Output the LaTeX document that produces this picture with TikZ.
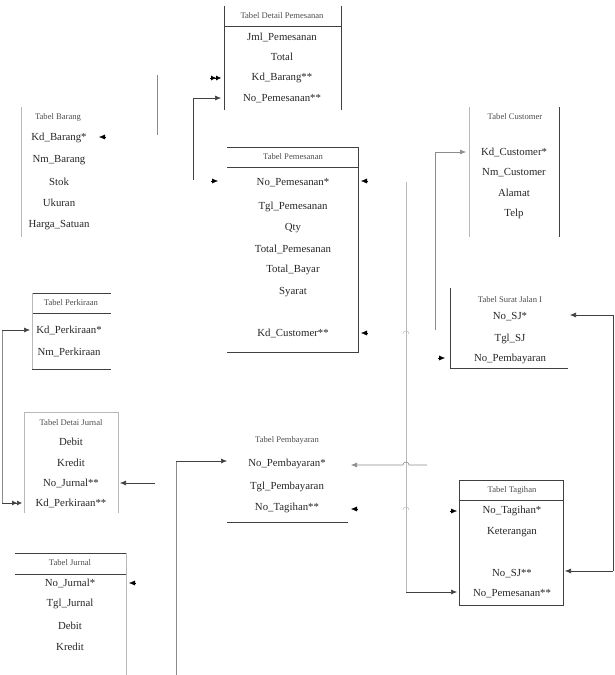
\documentclass[tikz,border=0pt]{standalone}
\usepackage{fontspec}
\setmainfont{Liberation Serif}
\usetikzlibrary{arrows.meta}
\definecolor{boxline}{gray}{0.25}
\definecolor{faint}{gray}{0.72}
\definecolor{midline}{gray}{0.55}
\definecolor{titlecol}{gray}{0.3}
\tikzset{
  row/.style={font=\fontsize{10.8}{12}\selectfont, inner sep=0pt, text=black!85},
  ttl/.style={font=\fontsize{8.6}{10}\selectfont, inner sep=0pt, text=titlecol},
  bl/.style={draw=boxline, line width=0.6pt},
  fl/.style={draw=faint, line width=0.6pt},
  ml/.style={draw=midline, line width=0.6pt},
  conn/.style={draw=boxline, line width=0.6pt, -{Latex[length=6pt,width=5pt]}},
  dconn/.style={draw=boxline, line width=0.6pt, -{Latex[length=5pt,width=5pt]Latex[length=5pt,width=5pt]}},
  tip/.style={draw=black, line width=0.4pt, -{Latex[length=6pt,width=5pt]}},
  dtip/.style={draw=black, line width=0.4pt, -{Latex[length=5pt,width=5pt]Latex[length=5pt,width=5pt]}},
  hop/.style={draw=faint, line width=0.5pt}
}
\begin{document}
\begin{tikzpicture}[x=1pt,y=-1pt]
\useasboundingbox (0,0) rectangle (615,675);

% ---------- Tabel Detail Pemesanan ----------
\draw[bl] (224,6) -- (224,110);
\draw[bl] (341,6) -- (341,110);
\draw[bl] (224,26) -- (341,26);
\node[ttl] (dpT) at (282,16) {Tabel Detail Pemesanan};
\node[row] (dp1) at (282,37) {Jml\_Pemesanan};
\node[row] (dp2) at (282,57) {Total};
\node[row] (dp3) at (282,78) {Kd\_Barang**};
\node[row] (dp4) at (282,99) {No\_Pemesanan**};

% ---------- Tabel Barang ----------
\draw[fl] (21,107) -- (21,237);
\node[ttl] (brT) at (58,117) {Tabel Barang};
\node[row] (br1) at (59,138) {Kd\_Barang*};
\node[row] (br2) at (59,160) {Nm\_Barang};
\node[row] (br3) at (59,182) {Stok};
\node[row] (br4) at (59,203) {Ukuran};
\node[row] (br5) at (59,225) {Harga\_Satuan};

% ---------- Tabel Pemesanan ----------
\draw[bl] (227,147) -- (358,147) -- (358,352) -- (227,352);
\draw[bl] (227,167) -- (358,167);
\node[ttl] (psT) at (293,157) {Tabel Pemesanan};
\node[row] (ps1) at (293,183) {No\_Pemesanan*};
\node[row] (ps2) at (293,207) {Tgl\_Pemesanan};
\node[row] (ps3) at (293,228) {Qty};
\node[row] (ps4) at (293,249) {Total\_Pemesanan};
\node[row] (ps5) at (293,270) {Total\_Bayar};
\node[row] (ps6) at (293,292) {Syarat};
\node[row] (ps7) at (293,333) {Kd\_Customer**};

% ---------- Tabel Customer ----------
\draw[fl] (469,107) -- (469,237);
\draw[bl] (559,107) -- (559,237);
\node[ttl] (csT) at (515,117) {Tabel Customer};
\node[row] (cs1) at (514,152) {Kd\_Customer*};
\node[row] (cs2) at (514,173) {Nm\_Customer};
\node[row] (cs3) at (514,193) {Alamat};
\node[row] (cs4) at (514,214) {Telp};

% ---------- Tabel Surat Jalan I ----------
\draw[bl] (450,288) -- (450,368) -- (568,368);
\node[ttl] (sjT) at (510,300) {Tabel Surat Jalan I};
\node[row] (sj1) at (510,317) {No\_SJ*};
\node[row] (sj2) at (510,339) {Tgl\_SJ};
\node[row] (sj3) at (510,359) {No\_Pembayaran};

% ---------- Tabel Perkiraan ----------
\draw[bl] (32,293) -- (111,293);
\draw[bl] (32,313) -- (111,313);
\draw[bl] (32,369) -- (111,369);
\draw[fl] (32,293) -- (32,369);
\node[ttl] (pkT) at (71,303) {Tabel Perkiraan};
\node[row] (pk1) at (69,330) {Kd\_Perkiraan*};
\node[row] (pk2) at (69,352) {Nm\_Perkiraan};

% ---------- Tabel Detail Jurnal ----------
\draw[fl] (24,513) -- (24,412) -- (118,412);
\draw[fl] (118,412) -- (118,513);
\node[ttl] (djT) at (71,423) {Tabel Detai Jurnal};
\node[row] (dj1) at (71,442) {Debit};
\node[row] (dj2) at (71,463) {Kredit};
\node[row] (dj3) at (71,483) {No\_Jurnal**};
\node[row] (dj4) at (71,503) {Kd\_Perkiraan**};

% ---------- Tabel Pembayaran ----------
\draw[bl] (227,522) -- (348,522);
\node[ttl] (pbT) at (287,440) {Tabel Pembayaran};
\node[row] (pb1) at (287,464) {No\_Pembayaran*};
\node[row] (pb2) at (287,487) {Tgl\_Pembayaran};
\node[row] (pb3) at (287,508) {No\_Tagihan**};

% ---------- Tabel Tagihan ----------
\draw[bl] (459,480) rectangle (563,605);
\draw[bl] (459,500) -- (563,500);
\node[ttl] (tgT) at (512,490) {Tabel Tagihan};
\node[row] (tg1) at (512,511) {No\_Tagihan*};
\node[row] (tg2) at (512,532) {Keterangan};
\node[row] (tg3) at (512,574) {No\_SJ**};
\node[row] (tg4) at (512,594) {No\_Pemesanan**};

% ---------- Tabel Jurnal ----------
\draw[bl] (15,553) -- (126,553);
\draw[bl] (15,574) -- (126,574);
\draw[fl] (126,553) -- (126,675);
\node[ttl] (jrT) at (70,563) {Tabel Jurnal};
\node[row] (jr1) at (70,583) {No\_Jurnal*};
\node[row] (jr2) at (70,604) {Tgl\_Jurnal};
\node[row] (jr3) at (70,626) {Debit};
\node[row] (jr4) at (70,647) {Kredit};

% ---------- connector end points ----------
\coordinate (a1) at (193,180);
\coordinate (a2) at (193,98);
\coordinate (a3) at (221,98);
\coordinate (b1) at (157,75);
\coordinate (b2) at (157,135);
\coordinate (c1) at (435,330);
\coordinate (c2) at (435,152);
\coordinate (c3) at (466,152);
\coordinate (d1) at (406,182);
\coordinate (d2) at (406,592);
\coordinate (d3) at (457,592);
\coordinate (e1) at (613,571);
\coordinate (e2) at (613,315);
\coordinate (e3) at (570,315);
\coordinate (e4) at (565,571);
\coordinate (f1) at (427,465);
\coordinate (f2) at (351,465);
\coordinate (g1) at (2,330);
\coordinate (g2) at (2,503);
\coordinate (g3) at (30,330);
\coordinate (g4) at (22,503);
\coordinate (h1) at (155,483);
\coordinate (h2) at (120,483);
\coordinate (k1) at (176,675);
\coordinate (k2) at (176,461);
\coordinate (k3) at (227,461);

% ---------- connectors ----------
\draw[bl] (a1) -- (a2);
\draw[conn] (a2) -- (a3);
\draw[ml] (b1) -- (b2);
\draw[ml] (c1) -- (c2);
\draw[conn, draw=midline] (c2) -- (c3);
\draw[fl] (d1) -- (d2);
\draw[conn] (d2) -- (d3);
\draw[bl] (e2) -- (e1);
\draw[conn] (e1) -- (e4);
\draw[conn] (e2) -- (e3);
\draw[conn, draw=midline] (f1) -- (409,465) arc (0:-180:3) -- (f2);
\draw[ml] (g2) -- (g1);
\draw[conn] (g1) -- (g3);
\draw[dconn] (g2) -- (g4);
\draw[conn] (h1) -- (h2);
\draw[ml] (k1) -- (k2);
\draw[conn] (k2) -- (k3);

% ---------- hops on hidden links ----------
\draw[hop] (403,334) arc (180:360:3);
\draw[hop] (403,510) arc (180:360:3);

% ---------- lone arrow tips ----------
\draw[dtip] (210,78) -- (221,78);
\draw[tip] (106,137) -- (99,137);
\draw[tip] (211,181) -- (218,181);
\draw[tip] (368,181) -- (361,181);
\draw[tip] (368,333) -- (361,333);
\draw[tip] (438,358) -- (445,358);
\draw[tip] (358,509) -- (351,509);
\draw[tip] (450,511) -- (457,511);
\draw[tip] (136,583) -- (129,583);
\end{tikzpicture}
\end{document}
